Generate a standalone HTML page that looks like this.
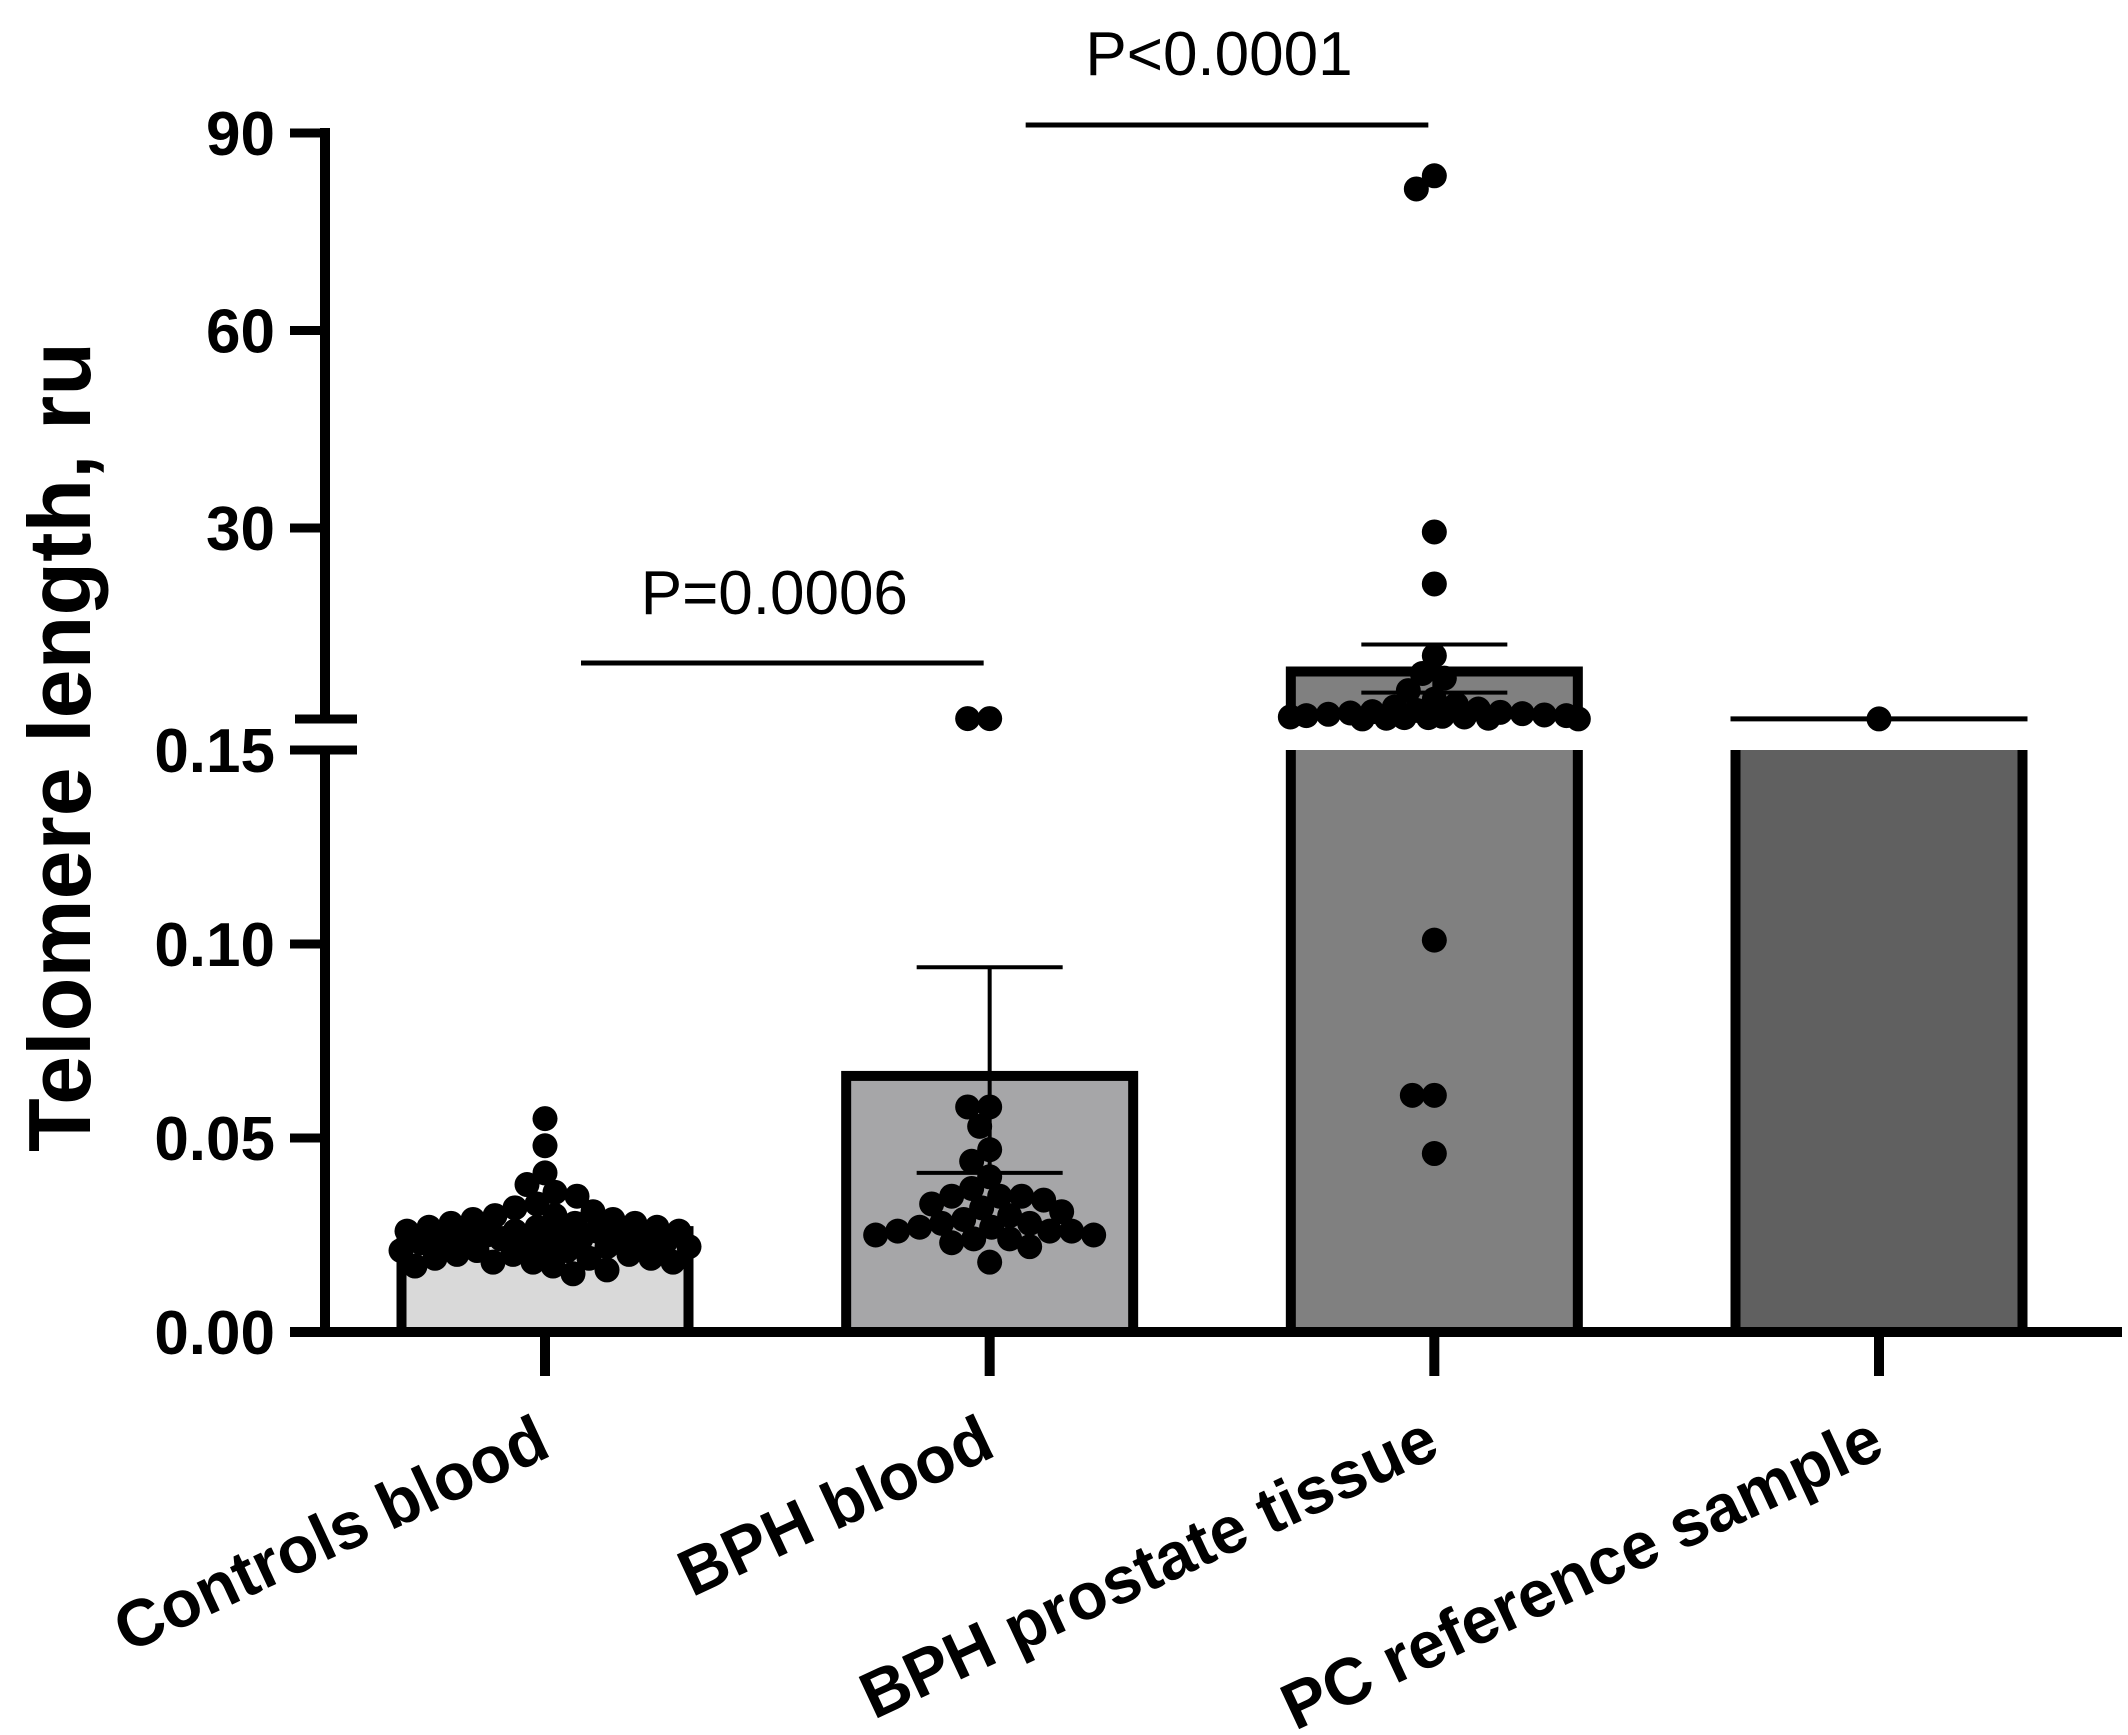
<!DOCTYPE html>
<html><head><meta charset="utf-8"><style>
html,body{margin:0;padding:0;background:#fff;}
svg{display:block;}
</style></head><body>
<svg id="chart" width="2128" height="1735" viewBox="0 0 2128 1735" xmlns="http://www.w3.org/2000/svg" font-family="Liberation Sans, Arial, sans-serif">
<g id="bars"></g>
<g id="dots"></g>
<g id="errs"></g>
<g id="axes"></g>
<text transform="translate(90,747) rotate(-90)" text-anchor="middle" font-weight="bold" font-size="88">Telomere length, ru</text>
</svg>
<script>
const categories = ["Controls blood","BPH blood","BPH prostate tissue","PC reference sample"];
const barValues = [0.026, 0.066, 8.2, 1.0];
const errHigh = [null, 0.094, 12.3, null];
const errLow = [null, 0.041, 5.0, null];
const barFills = ["#d9d9d9","#a6a6a8","#808080","#606060"];
const lowTicks = [0, 0.05, 0.10, 0.15];
const lowTickLabels = ["0.00","0.05","0.10","0.15"];
const highTicks = [30, 60, 90];
const highTickLabels = ["30","60","90"];
const controlsBlood = [0.055,0.048,0.041,0.038,0.036,0.035,0.033,0.032,0.031,0.030,0.030,0.029,0.029,0.028,0.028,0.028,0.027,0.027,0.027,0.026,0.026,0.026,0.026,0.025,0.025,0.025,0.025,0.024,0.024,0.024,0.024,0.023,0.023,0.023,0.022,0.022,0.022,0.021,0.021,0.021,0.020,0.020,0.020,0.019,0.019,0.019,0.018,0.018,0.018,0.017,0.017,0.016,0.015];
const bphBlood = [1.05,1.05,0.058,0.058,0.053,0.047,0.044,0.040,0.037,0.035,0.035,0.035,0.034,0.033,0.032,0.031,0.030,0.029,0.028,0.028,0.027,0.027,0.026,0.026,0.026,0.025,0.025,0.024,0.024,0.023,0.022,0.018];
const bphTissue = [83.5,81.5,29.4,21.5,10.6,7.9,7.2,5.3,4.0,3.2,2.8,2.5,2.3,2.1,2.0,1.9,1.8,1.7,1.6,1.5,1.5,1.4,1.3,1.3,1.2,1.2,1.1,1.1,1.0,1.0,0.101,0.061,0.061,0.046];
const pcReference = [1.0];
const groups = [controlsBlood, bphBlood, bphTissue, pcReference];
const sigLabels = ["P=0.0006","P<0.0001"];
const sigPairs = [[0,1],[1,2]];

const NS="http://www.w3.org/2000/svg";
function mk(tag, attrs, parent){const e=document.createElementNS(NS,tag);for(const k in attrs)e.setAttribute(k,attrs[k]);parent.appendChild(e);return e;}
const xCenters=[545,991,1435,1879];
function xScale(i){return xCenters[0]+i*((xCenters[3]-xCenters[0])/3);}
const BASE=1332, LOWTOP=750, HIGHBOT=719;
function yScale(v){
  if(v<=0.15) return BASE - v/0.15*(BASE-LOWTOP);
  return 528 - (v-30)*(528-133)/60;
}
const bars=document.getElementById('bars'), dots=document.getElementById('dots'), errs=document.getElementById('errs'), axes=document.getElementById('axes');
const BW=297, SW=10;
barValues.forEach((v,i)=>{
  const cx=xScale(i), x0=cx-BW/2+SW/2, x1=cx+BW/2-SW/2;
  const g=mk('g',{},bars);
  
  
  if(v<=0.15){
    const yt=yScale(v);
    mk('rect',{x:x0,y:yt,width:x1-x0,height:BASE-yt,fill:barFills[i],stroke:'#000','stroke-width':SW},g);
  } else {
    mk('rect',{x:x0,y:LOWTOP,width:x1-x0,height:BASE-LOWTOP,fill:barFills[i]},g);
    mk('line',{x1:x0,y1:LOWTOP,x2:x0,y2:BASE,stroke:'#000','stroke-width':SW},g);
    mk('line',{x1:x1,y1:LOWTOP,x2:x1,y2:BASE,stroke:'#000','stroke-width':SW},g);
    const yt=yScale(v);
    if(HIGHBOT-yt>4){
      mk('rect',{x:x0,y:yt,width:x1-x0,height:HIGHBOT-yt,fill:barFills[i]},g);
      mk('path',{d:`M${x0},${HIGHBOT} V${yt} H${x1} V${HIGHBOT}`,fill:'none',stroke:'#000','stroke-width':SW},g);
    } else {
      mk('line',{x1:cx-BW/2,y1:yt,x2:cx+BW/2,y2:yt,stroke:'#000','stroke-width':5},g);
    }
  }
});
// beeswarm dots
const R=12.5, D=21, HALF=145;
groups.forEach((vals,i)=>{
  const cx=xScale(i); const placed=[];
  vals.forEach(v=>{
    const y=yScale(v); let best=null,bestScore=-1;
    for(let s=0;s<=HALF;s+=2){
      for(const sg of (s===0?[1]:[-1,1])){
        const x=cx+sg*s; let md=1e9;
        placed.forEach(p=>{const d=Math.hypot(p[0]-x,p[1]-y); if(d<md)md=d;});
        if(md>=D){best=x;bestScore=1e9;break;}
        if(md>bestScore){bestScore=md;best=x;}
      }
      if(bestScore===1e9)break;
    }
    placed.push([best,y]);
    const c=mk('circle',{cx:best,cy:y,r:R,fill:'#000'},dots);
    
    
  });
});
// error bars
barValues.forEach((v,i)=>{
  if(errHigh[i]==null)return;
  const cx=xScale(i), g=mk('g',{stroke:'#000','stroke-width':4},errs);
  
  
  const yh=yScale(errHigh[i]), yl=yScale(errLow[i]);
  mk('line',{x1:cx,y1:yh,x2:cx,y2:yl},g);
  mk('line',{x1:cx-73,y1:yh,x2:cx+73,y2:yh},g);
  mk('line',{x1:cx-73,y1:yl,x2:cx+73,y2:yl},g);
});
// axes
const ax=mk('g',{stroke:'#000','stroke-width':10},axes);
mk('line',{x1:325,y1:128,x2:325,y2:HIGHBOT},ax);
mk('line',{x1:325,y1:LOWTOP,x2:325,y2:BASE+5},ax);
mk('line',{x1:290,y1:BASE,x2:2122,y2:BASE},ax);
mk('line',{x1:295,y1:HIGHBOT,x2:357,y2:HIGHBOT,'stroke-width':9},ax);
mk('line',{x1:290,y1:LOWTOP,x2:357,y2:LOWTOP,'stroke-width':9},ax);
lowTicks.forEach((t,k)=>{
  const y=yScale(t);
  mk('line',{x1:290,y1:y,x2:325,y2:y,'stroke-width':9},ax);
  const tx=mk('text',{x:275,y:y+22,'text-anchor':'end','font-weight':'bold','font-size':62,fill:'#000',stroke:'none'},axes);
  
  
  tx.textContent=lowTickLabels[k];
});
highTicks.forEach((t,k)=>{
  const y=yScale(t);
  mk('line',{x1:290,y1:y,x2:325,y2:y,'stroke-width':9},ax);
  const tx=mk('text',{x:275,y:y+22,'text-anchor':'end','font-weight':'bold','font-size':62,fill:'#000',stroke:'none'},axes);
  
  
  tx.textContent=highTickLabels[k];
});
categories.forEach((c,i)=>{
  const cx=xScale(i);
  mk('line',{x1:cx,y1:BASE,x2:cx,y2:1376},ax);
  const tx=mk('text',{transform:`translate(${cx+8},1455) rotate(-25)`,'text-anchor':'end','font-weight':'bold','font-size':66,fill:'#000'},axes);
  
  
  tx.textContent=c;
});
// significance
const sigY=[663,125], sigTextY=[614,75];
sigPairs.forEach((p,k)=>{
  const xa=xScale(p[0])+36, xb=xScale(p[1])-6;
  const l=mk('line',{x1:xa,y1:sigY[k],x2:xb,y2:sigY[k],stroke:'#000','stroke-width':5},axes);
  
  
  const t=mk('text',{x:(xa+xb)/2-8,y:sigTextY[k],'text-anchor':'middle','font-size':62,fill:'#000'},axes);
  
  
  t.textContent=sigLabels[k];
});
</script>
</body></html>
